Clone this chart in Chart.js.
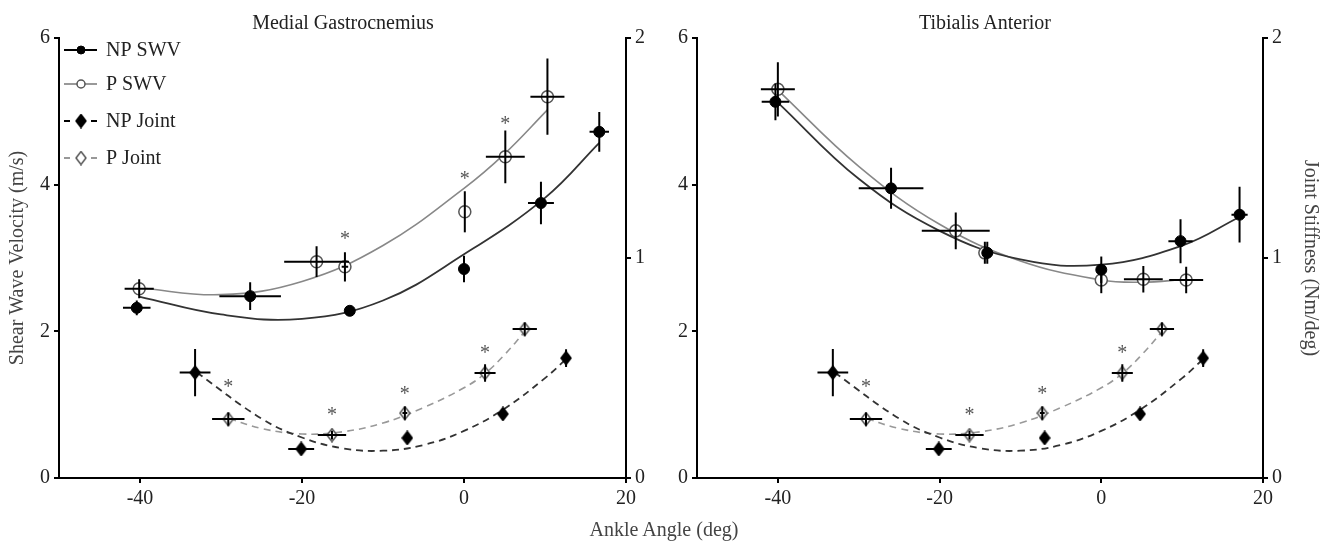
<!DOCTYPE html>
<html>
<head>
<meta charset="utf-8">
<script src="https://cdn.jsdelivr.net/npm/chart.js@4.4.1/dist/chart.umd.min.js"></script>
<style>
  body { margin: 0; background: #fff; }
  #wrap { position: relative; width: 1328px; height: 544px; font-family: "Liberation Serif", serif; }
  .panel { position: absolute; top: 0; width: 664px; height: 544px; }
  .label { position: absolute; color: #222; font-size: 20px; white-space: nowrap; transform: translate(-50%, -50%); }
</style>
</head>
<body>
<div id="wrap">
  <div class="panel" style="left:0"><canvas id="mgChart"></canvas></div>
  <div class="panel" style="left:664px"><canvas id="taChart"></canvas></div>
  <div class="label" style="left:343px; top:22px">Medial Gastrocnemius</div>
  <div class="label" style="left:985px; top:22px">Tibialis Anterior</div>
  <div class="label" style="left:664px; top:529px; color:#444">Ankle Angle (deg)</div>
</div>
<script>
// tick labels
const xTicks = [-40, -20, 0, 20];
const swvTicks = [0, 2, 4, 6];
const jointTicks = [0, 1, 2];

// Medial Gastrocnemius - shear wave velocity
const mgNpSwvX = [-40.4, -26.4, -14.1, 0, 9.5, 16.7];
const mgNpSwvY = [2.32, 2.48, 2.28, 2.85, 3.75, 4.72];
const mgNpSwvErrX = [1.7, 3.8, 0.5, 0, 1.6, 1.2];
const mgNpSwvErrY = [0.1, 0.19, 0.06, 0.18, 0.29, 0.27];
const mgPSwvX = [-40.1, -18.2, -14.7, 0.1, 5.1, 10.3];
const mgPSwvY = [2.58, 2.95, 2.88, 3.63, 4.38, 5.2];
const mgPSwvErrX = [1.8, 4.0, 0.4, 0, 2.4, 2.1];
const mgPSwvErrY = [0.13, 0.21, 0.2, 0.28, 0.36, 0.52];
const mgNpFitX = [-40, -30, -20, -10, 0, 10, 16.7];
const mgNpFitY = [2.47, 2.23, 2.17, 2.42, 3.05, 3.82, 4.57];
const mgPFitX = [-40, -30, -20, -10, 0, 5, 10.3];
const mgPFitY = [2.59, 2.5, 2.68, 3.17, 3.95, 4.42, 5.02];
const mgStarX = [-14.7, 0.1, 5.1];
const mgStarY = [3.31, 4.13, 4.88];

// Tibialis Anterior - shear wave velocity
const taNpSwvX = [-40.3, -26, -14.1, 0, 9.8, 17.1];
const taNpSwvY = [5.13, 3.95, 3.07, 2.84, 3.23, 3.59];
const taNpSwvErrX = [1.7, 4.0, 0.3, 0, 1.5, 1.0];
const taNpSwvErrY = [0.25, 0.28, 0.15, 0.18, 0.3, 0.38];
const taPSwvX = [-40, -18, -14.4, 0, 5.2, 10.5];
const taPSwvY = [5.3, 3.37, 3.07, 2.7, 2.71, 2.7];
const taPSwvErrX = [2.1, 4.2, 0.3, 0, 2.4, 2.1];
const taPSwvErrY = [0.37, 0.25, 0.15, 0.18, 0.18, 0.18];
const taNpFitX = [-40, -30, -20, -10, 0, 10, 17.1];
const taNpFitY = [5.12, 4.08, 3.37, 2.98, 2.91, 3.17, 3.56];
const taPFitX = [-40, -30, -20, -10, 0, 5, 10.5];
const taPFitY = [5.29, 4.25, 3.46, 2.96, 2.7, 2.67, 2.71];

// Joint stiffness (same in both panels)
const npJointX = [-33.2, -20.1, -7.0, 4.8, 12.6];
const npJointY = [0.479, 0.132, 0.182, 0.291, 0.545];
const npJointErrX = [1.9, 1.6, 0.3, 0.3, 0.4];
const npJointErrY = [0.107, 0.02, 0.02, 0.02, 0.04];
const pJointX = [-29.1, -16.3, -7.3, 2.6, 7.5];
const pJointY = [0.268, 0.195, 0.295, 0.477, 0.677];
const pJointErrX = [2.0, 1.75, 0.3, 1.3, 1.5];
const pJointErrY = [0.03, 0.02, 0.03, 0.04, 0.03];
const npJointFitX = [-33, -25, -20, -15, -10, -5, 0, 5, 10, 12.6];
const npJointFitY = [0.48, 0.27, 0.184, 0.135, 0.124, 0.15, 0.214, 0.315, 0.454, 0.54];
const pJointFitX = [-29, -25, -20, -15, -10, -5, 0, 2.6, 5, 7.5];
const pJointFitY = [0.27, 0.225, 0.2, 0.21, 0.25, 0.32, 0.41, 0.475, 0.56, 0.665];
const jointStarX = [-29.1, -16.3, -7.3, 2.6];
const jointStarY = [0.43, 0.305, 0.4, 0.586];

const FONT = "Liberation Serif";

function zip(xs, ys) {
  return xs.map((x, i) => ({ x: x, y: ys[i] }));
}

// tall diamond markers
function diamond(fill, stroke) {
  const c = document.createElement("canvas");
  c.width = 12;
  c.height = 15;
  const g = c.getContext("2d");
  g.beginPath();
  g.moveTo(6, 1);
  g.lineTo(11, 7.5);
  g.lineTo(6, 14);
  g.lineTo(1, 7.5);
  g.closePath();
  g.fillStyle = fill;
  g.fill();
  g.lineWidth = 1.5;
  g.strokeStyle = stroke;
  g.stroke();
  return c;
}
const fullDiamond = diamond("#000", "#000");
const openDiamond = diamond("#fff", "#555");

const styles = {
  npSwv: { pointStyle: "circle", pointRadius: 5.5, pointBackgroundColor: "#000", pointBorderColor: "#000", pointBorderWidth: 1 },
  pSwv: { pointStyle: "circle", pointRadius: 6, pointBackgroundColor: "#fff", pointBorderColor: "#555", pointBorderWidth: 1.5 },
  npJoint: { pointStyle: fullDiamond, pointRadius: 6 },
  pJoint: { pointStyle: openDiamond, pointRadius: 6 },
};

function markers(x, y, ex, ey, style, axis) {
  return Object.assign({ data: zip(x, y), errX: ex, errY: ey, yAxisID: axis, showLine: false, order: 0 }, style);
}

function fit(x, y, color, width, dash, axis) {
  return {
    data: zip(x, y), yAxisID: axis, showLine: true, pointRadius: 0, borderColor: color,
    borderWidth: width, borderDash: dash, tension: 0.4, fill: false, order: 1,
  };
}

// Error bars drawn through each marker
const errorBars = {
  id: "errorBars",
  afterDatasetsDraw(chart) {
    const ctx = chart.ctx;
    const xs = chart.scales.x;
    ctx.save();
    ctx.strokeStyle = "#000";
    ctx.lineWidth = 2;
    chart.data.datasets.forEach((ds) => {
      if (!ds.errX) return;
      const ys = chart.scales[ds.yAxisID];
      ds.data.forEach((p, j) => {
        const px = xs.getPixelForValue(p.x);
        const py = ys.getPixelForValue(p.y);
        ctx.beginPath();
        if (ds.errX[j] > 0) {
          ctx.moveTo(xs.getPixelForValue(p.x - ds.errX[j]), py);
          ctx.lineTo(xs.getPixelForValue(p.x + ds.errX[j]), py);
        }
        if (ds.errY[j] > 0) {
          ctx.moveTo(px, ys.getPixelForValue(p.y - ds.errY[j]));
          ctx.lineTo(px, ys.getPixelForValue(p.y + ds.errY[j]));
        }
        ctx.stroke();
      });
    });
    ctx.restore();
  },
};

// Significance asterisks
const stars = {
  id: "stars",
  afterDatasetsDraw(chart, args, opts) {
    const ctx = chart.ctx;
    ctx.save();
    ctx.fillStyle = "#555";
    ctx.font = "20px " + FONT;
    ctx.textAlign = "center";
    ctx.textBaseline = "alphabetic";
    (opts.sets || []).forEach((s) => {
      const ys = chart.scales[s.axis];
      s.x.forEach((x, i) => {
        ctx.fillText("*", chart.scales.x.getPixelForValue(x), ys.getPixelForValue(s.y[i]) + 10);
      });
    });
    ctx.restore();
  },
};

// Legend with line + marker samples
const sketchLegend = {
  id: "sketchLegend",
  afterDraw(chart, args, opts) {
    if (!opts.display) return;
    const ctx = chart.ctx;
    const items = [
      { text: "NP SWV", color: "#000", width: 2, dash: [], style: styles.npSwv, y: 50 },
      { text: "P SWV", color: "#777", width: 1.5, dash: [], style: styles.pSwv, y: 84 },
      { text: "NP Joint", color: "#000", width: 2, dash: [6, 21], style: styles.npJoint, y: 121 },
      { text: "P Joint", color: "#777", width: 1.5, dash: [6, 21], style: styles.pJoint, y: 158 },
    ];
    ctx.save();
    items.forEach((it) => {
      ctx.beginPath();
      ctx.setLineDash(it.dash);
      ctx.strokeStyle = it.color;
      ctx.lineWidth = it.width;
      ctx.moveTo(64, it.y);
      ctx.lineTo(97, it.y);
      ctx.stroke();
      ctx.setLineDash([]);
      if (typeof it.style.pointStyle === "string") {
        ctx.fillStyle = it.style.pointBackgroundColor;
        ctx.strokeStyle = it.style.pointBorderColor;
        ctx.lineWidth = it.style.pointBorderWidth;
        ctx.beginPath();
        ctx.arc(81, it.y, 4, 0, Math.PI * 2);
        ctx.fill();
        ctx.stroke();
      } else {
        Chart.helpers.drawPoint(ctx, { pointStyle: it.style.pointStyle, radius: 5, borderWidth: 0 }, 81, it.y);
      }
      ctx.fillStyle = "#222";
      ctx.font = "20px " + FONT;
      ctx.textAlign = "left";
      ctx.textBaseline = "middle";
      ctx.fillText(it.text, 106, it.y + 1);
    });
    ctx.restore();
  },
};

function axisBase() {
  return {
    grid: { display: true, drawOnChartArea: false, drawTicks: true, tickLength: 5, color: "#000", lineWidth: 2 },
    border: { display: true, color: "#000", width: 2 },
    ticks: { color: "#222", font: { family: FONT, size: 20 }, padding: 4 },
  };
}

function makeChart(id, p) {
  const x = axisBase();
  Object.assign(x, {
    type: "linear", min: -50, max: 20,
    afterBuildTicks: (s) => { s.ticks = xTicks.map((v) => ({ value: v })); },
    afterFit: (s) => { s.height = 66; },
  });
  const y = axisBase();
  Object.assign(y, {
    position: "left", min: 0, max: 6,
    afterBuildTicks: (s) => { s.ticks = swvTicks.map((v) => ({ value: v })); },
    afterFit: (s) => { s.width = p.leftWidth; },
    title: { display: p.leftTitle, text: "Shear Wave Velocity (m/s)", color: "#444", font: { family: FONT, size: 20 }, padding: { top: 6 } },
  });
  const y2 = axisBase();
  Object.assign(y2, {
    position: "right", min: 0, max: 2,
    afterBuildTicks: (s) => { s.ticks = jointTicks.map((v) => ({ value: v })); },
    afterFit: (s) => { s.width = p.rightWidth; },
    title: { display: p.rightTitle, text: "Joint Stiffness (Nm/deg)", color: "#444", font: { family: FONT, size: 20 }, padding: { top: 6 } },
  });

  return new Chart(document.getElementById(id), {
    type: "scatter",
    data: {
      datasets: [
        markers(p.npX, p.npY, p.npEx, p.npEy, styles.npSwv, "y"),
        markers(p.pX, p.pY, p.pEx, p.pEy, styles.pSwv, "y"),
        markers(npJointX, npJointY, npJointErrX, npJointErrY, styles.npJoint, "y2"),
        markers(pJointX, pJointY, pJointErrX, pJointErrY, styles.pJoint, "y2"),
        fit(p.npFitX, p.npFitY, "#333", 1.8, [], "y"),
        fit(p.pFitX, p.pFitY, "#888", 1.6, [], "y"),
        fit(npJointFitX, npJointFitY, "#333", 1.8, [7, 5], "y2"),
        fit(pJointFitX, pJointFitY, "#999", 1.6, [7, 5], "y2"),
      ],
    },
    options: {
      responsive: true,
      maintainAspectRatio: false,
      animation: false,
      layout: { padding: { top: 38, bottom: 0, left: 0, right: 0 } },
      scales: { x: x, y: y, y2: y2 },
      plugins: {
        legend: { display: false },
        tooltip: { enabled: false },
        stars: { sets: p.stars },
        sketchLegend: { display: p.legend },
      },
    },
    plugins: [errorBars, stars, sketchLegend],
  });
}

makeChart("mgChart", {
  npX: mgNpSwvX, npY: mgNpSwvY, npEx: mgNpSwvErrX, npEy: mgNpSwvErrY,
  pX: mgPSwvX, pY: mgPSwvY, pEx: mgPSwvErrX, pEy: mgPSwvErrY,
  npFitX: mgNpFitX, npFitY: mgNpFitY, pFitX: mgPFitX, pFitY: mgPFitY,
  stars: [{ x: mgStarX, y: mgStarY, axis: "y" }, { x: jointStarX, y: jointStarY, axis: "y2" }],
  leftWidth: 59, rightWidth: 38, leftTitle: true, rightTitle: false, legend: true,
});

makeChart("taChart", {
  npX: taNpSwvX, npY: taNpSwvY, npEx: taNpSwvErrX, npEy: taNpSwvErrY,
  pX: taPSwvX, pY: taPSwvY, pEx: taPSwvErrX, pEy: taPSwvErrY,
  npFitX: taNpFitX, npFitY: taNpFitY, pFitX: taPFitX, pFitY: taPFitY,
  stars: [{ x: jointStarX, y: jointStarY, axis: "y2" }],
  leftWidth: 33, rightWidth: 65, leftTitle: false, rightTitle: true, legend: false,
});
</script>
</body>
</html>
